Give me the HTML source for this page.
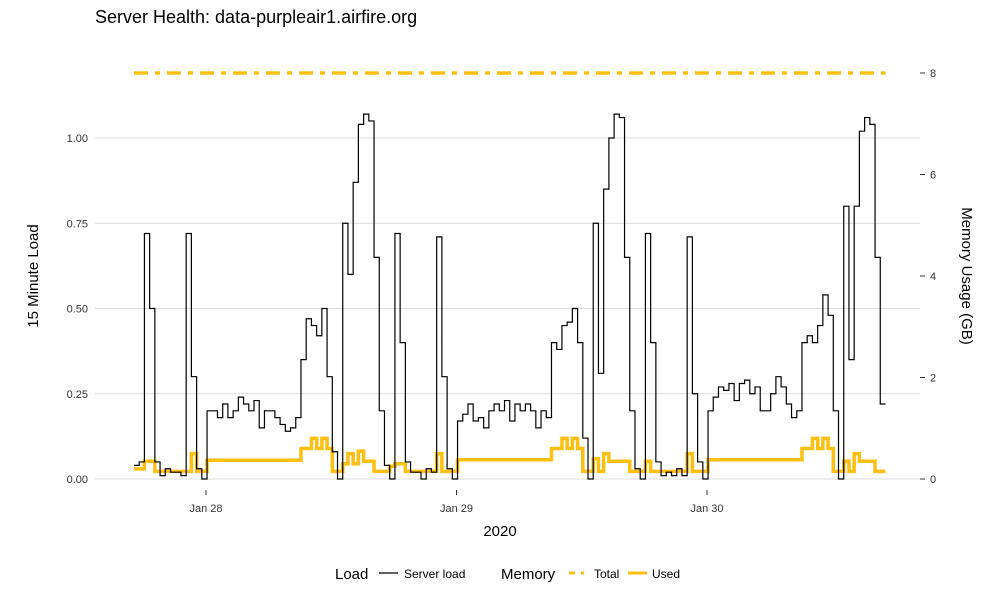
<!DOCTYPE html>
<html><head><meta charset="utf-8"><style>
body{margin:0;background:#fff;font-family:"Liberation Sans",sans-serif}
svg text{font-family:"Liberation Sans",sans-serif}
</style></head><body>
<svg id="chart" width="1000" height="600">
<text x="95" y="23" font-size="18" fill="#000">Server Health: data-purpleair1.airfire.org</text>
<g id="grid"></g><g id="axes"></g><g id="series"></g>
<text x="500" y="536" font-size="15" text-anchor="middle">2020</text>
<text transform="translate(38,276) rotate(-90)" font-size="15" text-anchor="middle">15 Minute Load</text>
<text transform="translate(962,276) rotate(90)" font-size="15" text-anchor="middle">Memory Usage (GB)</text>
<g>
<text x="335" y="579" font-size="15">Load</text>
<line x1="379" y1="573" x2="398" y2="573" stroke="#000" stroke-width="1.2"/>
<text x="404" y="578" font-size="12">Server load</text>
<text x="501" y="579" font-size="15">Memory</text>
<line x1="569" y1="573" x2="588" y2="573" stroke="#FDBF11" stroke-width="3" stroke-dasharray="6,6,3,6"/>
<text x="594" y="578" font-size="12">Total</text>
<line x1="628" y1="573" x2="647" y2="573" stroke="#FDBF11" stroke-width="3"/>
<text x="652" y="578" font-size="12">Used</text>
</g>
</svg>
<script>
const loadValues=[0.04,0.05,0.72,0.5,0.05,0.01,0.03,0.02,0.02,0.01,0.72,0.3,0.03,0.0,
0.2,0.2,0.18,0.22,0.18,0.2,0.24,0.22,0.2,0.23,0.15,0.2,0.2,0.18,0.16,0.14,0.15,0.18,
0.35,0.47,0.45,0.42,0.5,0.3,0.08,0.0,0.75,0.6,0.87,1.04,1.07,1.05,0.65,0.2,0.04,0.0,0.72,0.4,
0.05,0.02,0.02,0.0,0.03,0.02,0.71,0.3,0.03,0.0,0.17,
0.19,0.22,0.17,0.18,0.15,0.2,0.22,0.2,0.23,0.17,0.22,0.2,0.22,
0.2,0.15,0.2,0.18,0.4,0.38,0.45,0.46,0.5,0.4,0.12,0.0,0.75,0.31,0.85,1.0,1.07,1.06,0.65,0.2,0.03,0.0,0.72,0.4,
0.05,0.01,0.02,0.01,0.03,0.01,0.71,0.25,0.05,0.0,0.2,
0.24,0.27,0.26,0.28,0.23,0.28,0.29,0.25,0.27,0.2,0.2,0.25,0.3,0.27,0.22,0.18,0.2,
0.4,0.42,0.4,0.45,0.54,0.48,0.2,0.0,0.8,0.35,0.8,1.02,1.06,1.04,0.65,0.22];
const memUsed=[0.2,0.2,0.35,0.35,0.15,0.15,0.15,0.15,0.15,0.15,0.15,0.5,0.15,0.15,
0.37,0.37,0.37,0.37,0.37,0.37,0.37,0.37,0.37,0.37,0.37,0.37,0.37,0.37,0.37,0.37,0.37,0.37,
0.6,0.6,0.8,0.6,0.8,0.6,0.15,0.15,0.3,0.5,0.3,0.55,0.35,0.35,0.15,0.15,0.15,0.25,0.3,0.3,
0.15,0.15,0.15,0.15,0.15,0.15,0.5,0.15,0.15,0.15,
0.38,0.38,0.38,0.38,0.38,0.38,0.38,0.38,0.38,0.38,0.38,0.38,0.38,0.38,0.38,0.38,0.38,0.38,
0.6,0.6,0.8,0.6,0.8,0.6,0.15,0.15,0.4,0.15,0.5,0.35,0.35,0.35,0.35,0.15,0.15,0.15,0.35,
0.15,0.15,0.15,0.15,0.15,0.15,0.15,0.5,0.15,0.15,0.15,
0.38,0.38,0.38,0.38,0.38,0.38,0.38,0.38,0.38,0.38,0.38,0.38,0.38,0.38,0.38,0.38,0.38,0.38,
0.6,0.6,0.8,0.6,0.8,0.6,0.15,0.15,0.35,0.15,0.5,0.35,0.35,0.35,0.15,0.15];
const memTotal=8;
const startHour=-6.9; // hours relative to Jan 28 00:00
const stepHours=0.5;
const leftTicks=[0,0.25,0.5,0.75,1.0];
const leftTickLabels=["0.00","0.25","0.50","0.75","1.00"];
const rightTicks=[0,2,4,6,8];
const xTickDays=[0,1,2];
const xTickLabels=["Jan 28","Jan 29","Jan 30"];

const NS="http://www.w3.org/2000/svg";
const xScale=h=>206+h*250.5/24;
const yL=v=>479-v*341;
const yR=v=>479-v*50.75;
function mk(tag,attrs,parent){const e=document.createElementNS(NS,tag);for(const k in attrs)e.setAttribute(k,attrs[k]);parent.appendChild(e);return e;}
const grid=document.getElementById('grid'),axes=document.getElementById('axes'),series=document.getElementById('series');
leftTicks.forEach((v,i)=>{
  const l=mk('line',{x1:95,x2:920,y1:yL(v),y2:yL(v),stroke:'#dcdcdc','stroke-width':1},grid);
  
  
  const t=mk('text',{x:88,y:yL(v)+4,'font-size':11,'text-anchor':'end',fill:'#333'},axes);
  t.textContent=leftTickLabels[i];
  
  
});
rightTicks.forEach(v=>{
  const l=mk('line',{x1:920,x2:925,y1:yR(v),y2:yR(v),stroke:'#333','stroke-width':1},axes);
  
  
  const t=mk('text',{x:930,y:yR(v)+4,'font-size':11,fill:'#333'},axes);
  t.textContent=v;
  
  
});
xTickDays.forEach((d,i)=>{
  const x=xScale(d*24);
  const l=mk('line',{x1:x,x2:x,y1:490,y2:495,stroke:'#333','stroke-width':1},axes);
  
  
  const t=mk('text',{x:x,y:512,'font-size':11,'text-anchor':'middle',fill:'#333'},axes);
  t.textContent=xTickLabels[i];
  
  
});
function stepPath(vals,yf){
  let d='';
  vals.forEach((v,i)=>{
    const x0=xScale(startHour+i*stepHours),x1=xScale(startHour+(i+1)*stepHours);
    d+=(i===0?'M':'L')+x0.toFixed(2)+','+yf(v).toFixed(2)+'L'+x1.toFixed(2)+','+yf(v).toFixed(2);
  });
  return d;
}
const endH=startHour+loadValues.length*stepHours;
const tl=mk('line',{x1:xScale(startHour),x2:xScale(endH),y1:yR(memTotal),y2:yR(memTotal),stroke:'#FDBF11','stroke-width':3.5,'stroke-dasharray':'14,7,5,7'},series);


const mu=mk('path',{d:stepPath(memUsed,yR),fill:'none',stroke:'#FDBF11','stroke-width':3.5},series);


const ld=mk('path',{d:stepPath(loadValues,yL),fill:'none',stroke:'#000','stroke-width':1.2},series);


</script>
</body></html>
